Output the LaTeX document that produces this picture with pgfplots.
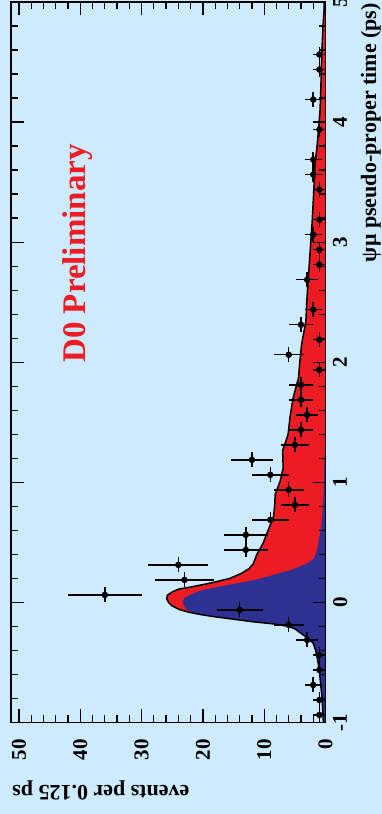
\documentclass[border=0pt]{standalone}
\usepackage{fontspec}
\setmainfont{Liberation Serif}
\usepackage{pgfplots}
\usepackage{pgfplotstable}
\pgfplotsset{compat=1.18}
\usetikzlibrary{backgrounds}

\definecolor{panelbg}{RGB}{205,235,253}
\definecolor{fitred}{RGB}{237,28,36}
\definecolor{fitblue}{RGB}{46,49,146}

\newcommand\ticklabelfont{\bfseries\fontsize{21}{21}\selectfont}
\newcommand\labelfont{\bfseries\fontsize{22}{22}\selectfont}

% binned candidates: bin centre (ps), events per 0.125 ps, statistical error
\pgfplotstableread{
t       n   en
-0.9375 1   1
-0.8125 1   1
-0.6875 2   1.414
-0.5625 1   1
-0.4375 1   1
-0.3125 3   1.732
-0.1875 6   2.449
-0.0625 14  3.742
0.0625  36  6
0.1875  23  4.796
0.3125  24  4.899
0.4375  13  3.606
0.5625  13  3.606
0.6875  9   3
0.8125  5   2.236
0.9375  6   2.449
1.0625  9   3
1.1875  12  3.464
1.3125  5   2.236
1.4375  4   2
1.5625  3   1.732
1.6875  4   2
1.8125  4   2
1.9375  1   1
2.0625  6   2.449
2.1875  1   1
2.3125  4   2
2.4375  2   1.414
2.6875  3   1.732
2.8125  1   1
2.9375  1   1
3.0625  2   1.414
3.1875  1   1
3.4375  1   1
3.5625  2   1.414
3.6875  2   1.414
3.9375  1   1
4.1875  2   1.414
4.4375  1   1
4.5625  1   1
}\lifetimedata

% total fit, as (events, time)
\newcommand\totalfit{
(0.35,-1.00) (0.45,-0.90) (0.55,-0.80) (0.75,-0.70) (0.95,-0.60)
(1.2,-0.50) (1.4,-0.45) (1.6,-0.40) (2.0,-0.34) (3.1,-0.29)
(4.2,-0.25) (5.0,-0.22) (6.0,-0.20) (8.3,-0.18) (12.0,-0.16)
(15.0,-0.14) (18.0,-0.12) (20.5,-0.10) (22.4,-0.08) (23.8,-0.06)
(25.0,-0.03) (25.6,0.00) (25.9,0.03) (25.8,0.06) (24.9,0.09)
(24.0,0.11) (21.8,0.13) (19.8,0.15) (18.0,0.17) (15.6,0.20)
(13.8,0.24) (12.5,0.28) (11.8,0.32) (11.2,0.40) (10.2,0.49)
(9.6,0.57) (8.5,0.71) (8.3,0.80) (8.2,0.90) (7.4,1.01)
(6.9,1.12) (7.0,1.26) (6.1,1.40) (5.8,1.54) (5.3,1.70)
(4.4,1.87) (4.2,2.00) (3.9,2.15) (3.2,2.34) (3.05,2.51)
(2.8,2.70) (2.5,2.93) (2.2,3.15) (2.0,3.34) (1.8,3.55)
(1.7,3.67) (1.45,3.76) (1.2,3.90) (0.9,4.09) (0.75,4.30)
(0.6,4.59) (0.4,4.80) (0.25,4.92) (0.2,5.00)}

% prompt component, as (events, time)
\newcommand\promptfit{
(0.35,-1.00) (0.45,-0.90) (0.55,-0.80) (0.75,-0.70) (0.95,-0.60)
(1.2,-0.50) (1.4,-0.45) (1.6,-0.40) (2.0,-0.34) (3.1,-0.29)
(4.2,-0.25) (5.0,-0.22) (6.0,-0.20) (8.3,-0.18) (12.0,-0.16)
(15.0,-0.14) (18.0,-0.12) (20.4,-0.10) (21.8,-0.08) (22.6,-0.06)
(23.1,-0.03) (23.3,0.00) (23.2,0.02) (23.0,0.04) (21.8,0.07)
(20.3,0.10) (17.5,0.13) (14.8,0.155) (12.2,0.18) (9.8,0.21)
(7.8,0.24) (5.6,0.27) (4.2,0.30) (2.8,0.33) (2.0,0.36)
(1.6,0.40) (1.25,0.46) (1.1,0.52) (0.8,0.60) (0.6,0.68)
(0.36,0.85) (0.28,1.00) (0.2,1.15) (0.1,1.30) (0,1.50)}

\begin{document}
\begin{tikzpicture}
\begin{axis}[
  scale only axis,
  width=314.5pt, height=720.5pt,
  x dir=reverse,
  xmin=0, xmax=51.3, ymin=-1, ymax=5,
  xtick={0,10,20,30,40,50}, xticklabels={0,10,20,30,40,50},
  ytick={-1,0,1,2,3,4,5}, yticklabels={-1,0,1,2,3,4,5},
  minor x tick num=4, minor y tick num=4,
  tick align=inside,
  xtick pos=both, ytick pos=both,
  xticklabel pos=lower, yticklabel pos=right,
  major tick length=13pt, minor tick length=7pt,
  tick style={black, line width=1.3pt},
  axis line style={line width=1.6pt},
  axis on top,
  xticklabel style={rotate=90, anchor=east, font=\ticklabelfont},
  yticklabel style={rotate=90, anchor=north, font=\ticklabelfont},
  xticklabel shift=13pt, yticklabel shift=4pt,
]
\addplot[draw=none, fill=fitred] coordinates {(0,-1) \totalfit (0,5)} -- cycle;
\addplot[draw=none, fill=fitblue] coordinates {(0,-1) \promptfit (0,5)} -- cycle;
\addplot[black, line width=1.5pt] coordinates {\totalfit};
\addplot[only marks, mark=*, mark size=3pt, black,
  error bars/.cd, x dir=both, x explicit, y dir=both, y fixed=0.0625,
  error bar style={line width=1.5pt}, error mark=none]
  table[x=n, y=t, x error=en] {\lifetimedata};
\coordinate (bl) at (axis cs:51.3,-1);
\coordinate (tr) at (axis cs:0,5);
\coordinate (txt) at (axis cs:39.2,1.995);
\end{axis}
\node[rotate=90, anchor=base west, inner sep=0pt, text=fitred,
  font=\bfseries\fontsize{33}{33}\selectfont] at (txt) {D0 Preliminary};
\node[rotate=180, anchor=base east, inner sep=0pt, font=\labelfont]
  at ([xshift=1pt, yshift=-62.5pt]bl) {events per 0.125 ps};
\node[rotate=90, anchor=base east, inner sep=0pt, font=\labelfont]
  at ([xshift=50.5pt, yshift=-1pt]tr) {ψμ pseudo-proper time (ps)};
\pgfresetboundingbox
\path[use as bounding box] ([xshift=-11pt, yshift=-91.5pt]bl) rectangle ([xshift=55.5pt, yshift=2pt]tr);
\begin{scope}[on background layer]
  \fill[panelbg] ([xshift=-12pt, yshift=-93pt]bl) rectangle ([xshift=57pt, yshift=3pt]tr);
\end{scope}
\end{tikzpicture}
\end{document}
